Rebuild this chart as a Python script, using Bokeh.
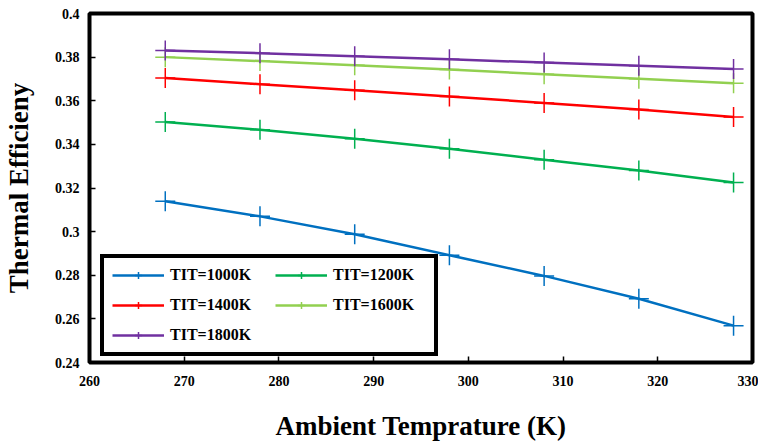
from bokeh.plotting import figure
from bokeh.models import Legend, LegendItem, FixedTicker, CustomJSTickFormatter, Range1d
from bokeh.embed import file_html
from bokeh.resources import INLINE

temps = [268, 278, 288, 298, 308, 318, 328]
eff_1000 = [0.3139, 0.3070, 0.2988, 0.2892, 0.2797, 0.2692, 0.2569]
eff_1200 = [0.3503, 0.3467, 0.3426, 0.3380, 0.3330, 0.3280, 0.3225]
eff_1400 = [0.3704, 0.3676, 0.3648, 0.3620, 0.3590, 0.3560, 0.3526]
eff_1600 = [0.3800, 0.3782, 0.3763, 0.3743, 0.3722, 0.3701, 0.3680]
eff_1800 = [0.3830, 0.3818, 0.3804, 0.3790, 0.3775, 0.3760, 0.3745]

labels = ["TIT=1000K", "TIT=1200K", "TIT=1400K", "TIT=1600K", "TIT=1800K"]
colors = ["#0070C0", "#00B050", "#FF0000", "#92D050", "#7030A0"]
series = [eff_1000, eff_1200, eff_1400, eff_1600, eff_1800]

x_ticks = [260, 270, 280, 290, 300, 310, 320, 330]
y_ticks = [0.24, 0.26, 0.28, 0.30, 0.32, 0.34, 0.36, 0.38, 0.40]

FONT = "Liberation Serif"

p = figure(width=758, height=443, output_backend="svg", toolbar_location=None,
           x_range=Range1d(260, 330), y_range=Range1d(0.24, 0.40),
           min_border_left=88, min_border_right=6, min_border_top=13, min_border_bottom=77)

items = []
for lab, col, ys in zip(labels, colors, series):
    r1 = p.line(temps, ys, line_color=col, line_width=2.5)
    r2 = p.scatter(temps, ys, marker="cross", size=20, line_color=col, line_width=1.5)
    items.append(LegendItem(label=lab, renderers=[r1, r2]))

p.outline_line_color = "black"
p.outline_line_width = 4
p.xgrid.grid_line_color = None
p.ygrid.grid_line_color = None

for ax in (p.xaxis[0], p.yaxis[0]):
    ax.axis_line_color = None
    ax.major_tick_in = 6
    ax.major_tick_out = 0
    ax.major_tick_line_color = "black"
    ax.major_tick_line_width = 1.5
    ax.minor_tick_line_color = None
    ax.major_label_text_font = FONT
    ax.major_label_text_font_style = "bold"
    ax.major_label_text_font_size = "14px"
    ax.major_label_text_color = "black"
    ax.axis_label_text_font = FONT
    ax.axis_label_text_font_style = "bold"
    ax.axis_label_text_font_size = "27px"
    ax.axis_label_text_color = "black"

p.xaxis.ticker = FixedTicker(ticks=x_ticks)
p.yaxis.ticker = FixedTicker(ticks=y_ticks)
p.yaxis.formatter = CustomJSTickFormatter(code="return tick.toFixed(2).replace(/0$/, '');")
p.xaxis.axis_label = "Ambient Temprature (K)"
p.yaxis.axis_label = "Thermal Efficieny"
p.xaxis.major_label_standoff = 13
p.xaxis.axis_label_standoff = 22
p.yaxis.major_label_standoff = 10
p.yaxis.axis_label_standoff = 18

legend = Legend(items=items, location=(11, 6), orientation="horizontal", ncols=2,
                label_text_font=FONT, label_text_font_style="bold", label_text_font_size="16px",
                label_text_color="black",
                border_line_color="black", border_line_width=4, border_line_alpha=1.0,
                glyph_width=52, glyph_height=18, label_standoff=6, label_width=93,
                spacing=12, padding=8, margin=0, label_height=18)
p.add_layout(legend)

open("out.html", "w").write(file_html(p, INLINE))
